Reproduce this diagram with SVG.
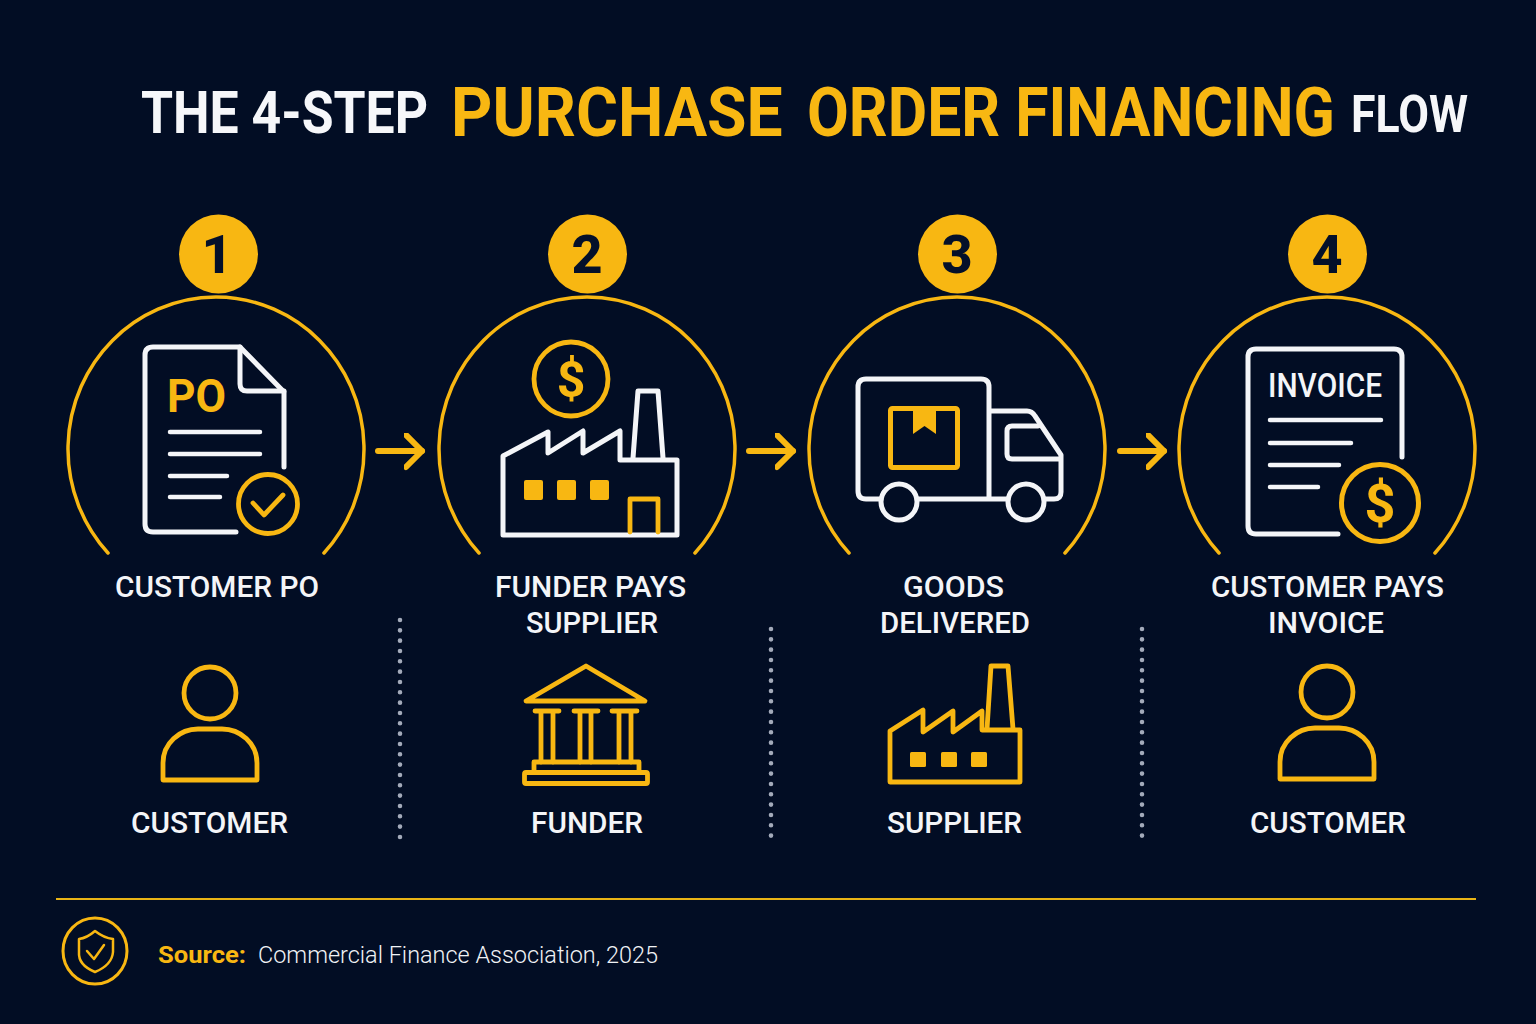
<svg xmlns="http://www.w3.org/2000/svg" width="1536" height="1024" viewBox="0 0 1536 1024">
<defs>
<style>
text{font-family:"Roboto","Liberation Sans",sans-serif}
.w{fill:none;stroke:#f4f5f8;stroke-width:5;stroke-linecap:round;stroke-linejoin:round}
.y{fill:none;stroke:#f8b712;stroke-width:5;stroke-linecap:round;stroke-linejoin:round}
.y4{fill:none;stroke:#f8b712;stroke-width:4.8;stroke-linecap:round;stroke-linejoin:round}
.arc{fill:none;stroke:#f8b712;stroke-width:3.5;stroke-linecap:round}
.f{fill:#f8b712}
.num{fill:#04102a;font-size:54px;font-weight:800;text-anchor:middle}
.lab{fill:#f4f5f8;font-size:29px;font-weight:500}
.dot{fill:none;stroke:#a3aaba;stroke-width:4.6;stroke-linecap:round;stroke-dasharray:0 10.33}
</style>
<marker id="head" markerUnits="userSpaceOnUse" markerWidth="30" markerHeight="40" refX="18" refY="18" orient="auto"><path d="M2 2 L18 18 L2 34" fill="none" stroke="#f8b712" stroke-width="6" stroke-linecap="round" stroke-linejoin="round"/></marker>
<path id="arcShape" class="arc" d="M-108 103 A148 152 0 1 1 108 103"/>
<g id="person"><circle cx="0" cy="0" r="26" class="y4"/><path class="y4" d="M-47 87 V70 C-47 50 -30 36 -12 36 H12 C30 36 47 50 47 70 V87 Z"/></g>
</defs>
<rect width="1536" height="1024" fill="#020d24"/>

<g id="title">
<text transform="translate(141 133) scale(.9 1)" font-size="60" font-weight="700" fill="#f6f7fa" textLength="319" lengthAdjust="spacingAndGlyphs">THE 4-STEP</text>
<text transform="translate(451 136) scale(.88 1)" font-size="68" font-weight="700" fill="#f8b712" textLength="377" lengthAdjust="spacingAndGlyphs">PURCHASE</text>
<text transform="translate(807 136) scale(.88 1)" font-size="68" font-weight="700" fill="#f8b712" textLength="600" lengthAdjust="spacingAndGlyphs">ORDER FINANCING</text>
<text transform="translate(1351 132) scale(.9 1)" font-size="52" font-weight="700" fill="#f6f7fa" textLength="130" lengthAdjust="spacingAndGlyphs">FLOW</text>
</g>

<g id="connectors">
<path class="y" style="stroke-width:6" d="M378 451 H422" marker-end="url(#head)"/>
<path class="y" style="stroke-width:6" d="M749 451 H793" marker-end="url(#head)"/>
<path class="y" style="stroke-width:6" d="M1120 451 H1164" marker-end="url(#head)"/>
</g>

<g id="dividers">
<path class="dot" d="M400 620 V840"/>
<path class="dot" d="M771 629 V840"/>
<path class="dot" d="M1142 629 V840"/>
</g>

<g id="step-1">
<circle cx="218.500" cy="254" r="39.500" class="f"/>
<text x="217" y="273" class="num">1</text>
<use href="#arcShape" transform="translate(216 450)"/>
<path class="w" d="M284 467 V392 L240 347 H153 Q145 347 145 355 V524 Q145 532 153 532 H236"/>
<path class="w" d="M240 347 V384 Q240 391 247 391 H284"/>
<text x="167" y="412" font-size="47" font-weight="700" fill="#f8b712" textLength="59" lengthAdjust="spacingAndGlyphs">PO</text>
<path class="w" d="M170 432 H260 M170 454 H260 M170 476 H227 M170 497 H220" style="stroke-width:4.500"/>
<circle cx="268" cy="504" r="29.500" class="y4"/>
<path class="y4" d="M253 503 L264 515 L283 495"/>
<text x="115" y="597" class="lab" textLength="204" lengthAdjust="spacingAndGlyphs">CUSTOMER PO</text>
</g>

<g id="step-2">
<circle cx="587.500" cy="254" r="39.500" class="f"/>
<text x="587" y="273" class="num">2</text>
<use href="#arcShape" transform="translate(587 450)"/>
<circle cx="571" cy="379" r="37" class="y4"/>
<text x="571" y="397" font-size="50" font-weight="700" fill="#f8b712" text-anchor="middle">$</text>
<path class="w" d="M503 456 L548 432 V453 L583 431 V453 L620 431 V460 H677 V535 H503 Z"/>
<path class="w" d="M633 458 L638 391 H658 L663 458"/>
<rect x="524" y="480" width="19" height="20" rx="2" class="f"/>
<rect x="557" y="480" width="19" height="20" rx="2" class="f"/>
<rect x="590" y="480" width="19" height="20" rx="2" class="f"/>
<path class="y4" d="M630 532 V499 H658 V532"/>
<text x="495" y="597" class="lab" textLength="191" lengthAdjust="spacingAndGlyphs">FUNDER PAYS</text>
<text x="526" y="633" class="lab" textLength="132" lengthAdjust="spacingAndGlyphs">SUPPLIER</text>
</g>

<g id="step-3">
<circle cx="957.500" cy="254" r="39.500" class="f"/>
<text x="957" y="273" class="num">3</text>
<use href="#arcShape" transform="translate(957 450)"/>
<path class="w" d="M881 499 H866 Q858 499 858 491 V387 Q858 379 866 379 H981 Q989 379 989 387 V499 M917 499 H1008 M1044 499 H1054 Q1061 499 1061 492 V455 L1035 416 Q1032 411 1027 411 H989"/>
<path class="w" d="M1038 426 H1012 Q1007 426 1007 431 V454 Q1007 459 1012 459 H1060"/>
<circle cx="899" cy="502" r="18" class="w"/>
<circle cx="1026" cy="502" r="18" class="w"/>
<rect x="890.500" y="408.500" width="67" height="59" rx="2" class="y"/>
<path class="f" d="M913 408 H936 V434 L924.500 426 L913 434 Z"/>
<text x="903" y="597" class="lab" textLength="101" lengthAdjust="spacingAndGlyphs">GOODS</text>
<text x="880" y="633" class="lab" textLength="150" lengthAdjust="spacingAndGlyphs">DELIVERED</text>
</g>

<g id="step-4">
<circle cx="1327.500" cy="254" r="39.500" class="f"/>
<text x="1327" y="273" class="num">4</text>
<use href="#arcShape" transform="translate(1327 450)"/>
<path class="w" d="M1402 457 V357 Q1402 349 1394 349 H1256 Q1248 349 1248 357 V526 Q1248 534 1256 534 H1338"/>
<text x="1268" y="397" font-size="33" font-weight="500" fill="#f4f5f8" textLength="114" lengthAdjust="spacingAndGlyphs">INVOICE</text>
<path class="w" d="M1270 420 H1381 M1270 443 H1351 M1270 465 H1339 M1270 487 H1318" style="stroke-width:4.500"/>
<circle cx="1380" cy="503" r="38.500" class="y"/>
<text x="1380" y="522" font-size="54" font-weight="700" fill="#f8b712" text-anchor="middle">$</text>
<text x="1211" y="597" class="lab" textLength="233" lengthAdjust="spacingAndGlyphs">CUSTOMER PAYS</text>
<text x="1268" y="633" class="lab" textLength="116" lengthAdjust="spacingAndGlyphs">INVOICE</text>
</g>

<g id="actor-customer-1">
<use href="#person" transform="translate(210 693)"/>
<text x="131" y="833" class="lab" textLength="157" lengthAdjust="spacingAndGlyphs">CUSTOMER</text>
</g>

<g id="actor-funder">
<path class="y4" d="M586 666 L645 701 H526 Z"/>
<path class="y4" d="M535 711 H559 M574 711 H598 M612 711 H637 M541 711 V762 M553 711 V762 M580 711 V762 M591 711 V762 M619 711 V762 M631 711 V762"/>
<path class="y4" d="M534 772 V762 H639 V772"/>
<rect x="524.500" y="772.500" width="123" height="11" rx="1.500" class="y4"/>
<text x="531" y="833" class="lab" textLength="112" lengthAdjust="spacingAndGlyphs">FUNDER</text>
</g>

<g id="actor-supplier">
<path class="y4" d="M890 731 L923 710 V732 L953 711 V732 L982 711 V730 H1020 V782 H890 Z"/>
<path class="y4" d="M987 729 L991 666 H1008 L1013 729"/>
<rect x="910" y="752" width="16" height="15" rx="1.500" class="f"/>
<rect x="941" y="752" width="16" height="15" rx="1.500" class="f"/>
<rect x="971" y="752" width="16" height="15" rx="1.500" class="f"/>
<text x="887" y="833" class="lab" textLength="135" lengthAdjust="spacingAndGlyphs">SUPPLIER</text>
</g>

<g id="actor-customer-2">
<use href="#person" transform="translate(1327 692)"/>
<text x="1250" y="833" class="lab" textLength="156" lengthAdjust="spacingAndGlyphs">CUSTOMER</text>
</g>

<g id="footer">
<path d="M56 899 H1476" stroke="#e9b416" stroke-width="2" fill="none"/>
<ellipse cx="95" cy="951" rx="32" ry="33" fill="none" stroke="#f8b712" stroke-width="3"/>
<path d="M95 931 Q104 938 113 939 V952 Q112 965 95 972 Q78 965 79 952 V939 Q87 938 95 931 Z" fill="none" stroke="#f8b712" stroke-width="2.500" stroke-linejoin="round"/>
<path d="M87 951 L94 959 L104 945" fill="none" stroke="#f8b712" stroke-width="2.500" stroke-linecap="round" stroke-linejoin="round"/>
<text x="158" y="963" font-size="24" font-weight="700" fill="#f8b712" textLength="88" lengthAdjust="spacingAndGlyphs">Source:</text>
<text x="258" y="963" font-size="23" font-weight="300" fill="#f0f2f6" textLength="400" lengthAdjust="spacingAndGlyphs">Commercial Finance Association, 2025</text>
</g>
</svg>
